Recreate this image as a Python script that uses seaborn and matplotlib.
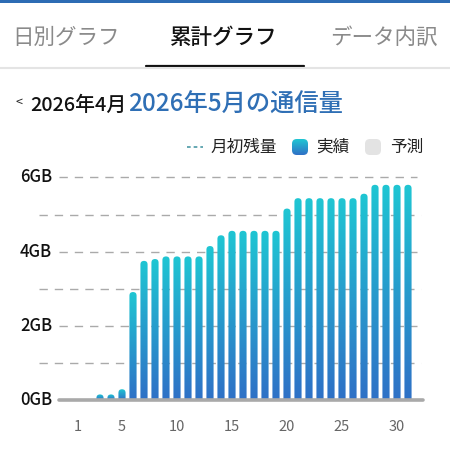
import matplotlib
matplotlib.use("Agg")
import matplotlib.pyplot as plt
import numpy as np
import pandas as pd
import seaborn as sns
from matplotlib.colors import LinearSegmentedColormap
from matplotlib.lines import Line2D
from matplotlib.patches import FancyBboxPatch, Rectangle

days = list(range(1, 32))
usage_gb = [0, 0, 0.15, 0.15, 0.29, 2.91, 3.75, 3.80, 3.87, 3.87, 3.87, 3.87, 4.15, 4.44,
            4.56, 4.56, 4.56, 4.56, 4.56, 5.16, 5.44, 5.44, 5.44, 5.44, 5.44, 5.44, 5.56,
            5.80, 5.80, 5.80, 5.80]
tick_days = [1, 5, 10, 15, 20, 25, 30]
labeled_gb = [2, 4, 6]
minor_gb = [1, 3, 5]
tabs = ["日別グラフ", "累計グラフ", "データ内訳"]
prev_month = "2026年4月"
title = "2026年5月の通信量"
legend_labels = ["月初残量", "実績", "予測"]

W = H = 450
BLUE_TOP = "#1fc6d3"
BLUE_BOT = "#2f70c6"
TITLE_BLUE = "#2f6fb5"
grad = LinearSegmentedColormap.from_list("usage", [BLUE_BOT, BLUE_TOP])

sns.set_theme(style="white")
plt.rcParams["font.family"] = ["Noto Sans CJK JP", "DejaVu Sans"]


def fx(px):
    return px / W


def fy(py):
    return 1 - py / H


fig = plt.figure(figsize=(4.5, 4.5), dpi=100)
fig.patch.set_facecolor("white")

# header: top strip, tabs, underline, separator
fig.add_artist(Rectangle((0, fy(3)), 1, 3 / H, transform=fig.transFigure,
                         color="#2d6cb4", lw=0))
tab_x = [66, 224, 384]
for i, (label, x) in enumerate(zip(tabs, tab_x)):
    active = i == 1
    fig.text(fx(x), fy(38), label, ha="center", va="center", fontsize=15.5,
             color="#111111" if active else "#8a8a8a",
             fontweight="medium" if active else "normal")
fig.add_artist(Line2D([fx(146), fx(304)], [fy(66), fy(66)], transform=fig.transFigure,
                      color="#111111", lw=1.6))
fig.add_artist(Line2D([0, 1], [fy(68), fy(68)], transform=fig.transFigure,
                      color="#e4e4e4", lw=1.5))

# month title
fig.text(fx(15), fy(102), "<", ha="left", va="center", fontsize=9, color="#222222")
fig.text(fx(30), fy(105), prev_month, ha="left", va="center", fontsize=14.3,
         color="#111111", fontweight="medium")
fig.text(fx(128), fy(105), title, ha="left", va="center", fontsize=17.5,
         color=TITLE_BLUE, fontweight="medium")

# legend
fig.add_artist(Line2D([fx(187), fx(203)], [fy(147), fy(147)], transform=fig.transFigure,
                      color="#4b9aa6", lw=1.2, ls=(0, (2.2, 1.8))))
fig.text(fx(210), fy(147), legend_labels[0], ha="left", va="center", fontsize=12,
         color="#222222")
sw = fig.add_axes([fx(292), fy(155), 16 / W, 16 / H])
sw.set_axis_off()
sw_img = sw.imshow(np.linspace(0, 1, 64).reshape(-1, 1), cmap=grad, origin="lower",
                   extent=(0, 1, 0, 1), aspect="auto")
sw_box = FancyBboxPatch((0, 0), 1, 1, boxstyle="round,pad=0,rounding_size=0.3",
                        transform=sw.transAxes, facecolor="none", edgecolor="none")
sw.add_patch(sw_box)
sw_img.set_clip_path(sw_box)
fig.text(fx(316), fy(147), legend_labels[1], ha="left", va="center", fontsize=12,
         color="#222222")
fig.add_artist(FancyBboxPatch((fx(365), fy(155)), 16 / W, 16 / H,
                              boxstyle="round,pad=0,rounding_size=0.011",
                              transform=fig.transFigure, facecolor="#e3e3e3",
                              edgecolor="none"))
fig.text(fx(390), fy(147), legend_labels[2], ha="left", va="center", fontsize=12,
         color="#222222")

# chart axes
ax_left, ax_right, ax_top, ax_bot = 39, 423, 170, 400
ax = fig.add_axes([fx(ax_left), fy(ax_bot), (ax_right - ax_left) / W, (ax_bot - ax_top) / H])
df = pd.DataFrame({"day": days, "gb": usage_gb})
sns.barplot(data=df, x="day", y="gb", order=days, width=0.65, color=BLUE_BOT, ax=ax)

px_per_day = 11.0
x_lo = (ax_left - 78) / px_per_day
x_hi = (ax_right - 78) / px_per_day
px_per_gb = 37.1
y_hi = (ax_bot - ax_top) / px_per_gb

ax.set_xlim(x_lo, x_hi)
ax.set_ylim(0, y_hi)
aspect = px_per_day / px_per_gb

for p in list(ax.patches):
    x0, w, h = p.get_x(), p.get_width(), p.get_height()
    p.remove()
    if h <= 0:
        continue
    r = w / 2
    ext = r * aspect
    box = FancyBboxPatch((x0, -ext), w, h + ext,
                         boxstyle=f"round,pad=0,rounding_size={r}",
                         mutation_aspect=aspect, facecolor="none", edgecolor="none",
                         zorder=3)
    ax.add_patch(box)
    img = ax.imshow(np.linspace(0, 1, 256).reshape(-1, 1), cmap=grad, origin="lower",
                    extent=(x0, x0 + w, 0, h), aspect="auto", zorder=3)
    img.set_clip_path(box)

ax.set_xlim(x_lo, x_hi)
ax.set_ylim(0, y_hi)

lab_start = (59 - ax_left) / (ax_right - ax_left)
lab_end = (417 - ax_left) / (ax_right - ax_left)
for g in labeled_gb:
    ax.axhline(g, lab_start, lab_end, color="#aaaaaa", lw=1.0, ls=(0, (6, 5)), zorder=1)
    ax.text((52 - ax_left) / (ax_right - ax_left), g, f"{g}GB",
            transform=ax.get_yaxis_transform(), ha="right", va="center",
            fontsize=12, color="#111111", fontweight="medium")
for g in minor_gb:
    ax.axhline(g, 0, 0.995, color="#aaaaaa", lw=1.0, ls=(0, (6, 5)), zorder=1)
ax.axhline(0, lab_start, 1.0, color="#a9a9a9", lw=2.6, zorder=4, clip_on=False)
ax.text((52 - ax_left) / (ax_right - ax_left), 0, "0GB",
        transform=ax.get_yaxis_transform(), ha="right", va="center",
        fontsize=12, color="#111111", fontweight="medium")

ax.set_xticks([d - 1 for d in tick_days])
ax.set_xticklabels([str(d) for d in tick_days])
ax.tick_params(axis="x", length=0, pad=14.5, labelsize=10.5, labelcolor="#666666")
ax.set_yticks([])
ax.set_xlabel("")
ax.set_ylabel("")
for s in ax.spines.values():
    s.set_visible(False)

fig.savefig("out.png", dpi=100, facecolor="white")
